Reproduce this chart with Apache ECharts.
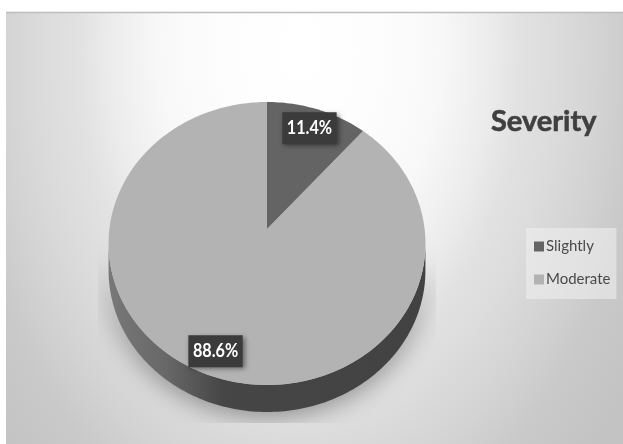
<!DOCTYPE html>
<html>
<head>
<meta charset="utf-8">
<style>html,body{margin:0;padding:0;background:#fff}#chart{width:623px;height:444px}</style>
<script src="https://cdn.jsdelivr.net/npm/echarts@6/dist/echarts.min.js"></script>
</head>
<body>
<div id="chart"></div>
<script>
// Severity split, in percent
const categories = ['Slightly', 'Moderate'];
const shares = [11.4, 88.6];
const sliceColors = ['#646464', '#b3b3b3'];
const chartTitle = 'Severity';

// Tilted disc: a circle under a perspective projection, apex at the slice meeting point
const apex = { x: 267, y: 229 };
const radiusX = 157.6, radiusY = 140, tilt = 0.1025, depth = 27;
const labelRadius = [0.83, 0.855];

function project(theta, r) {
  const c = Math.cos(theta) * r, s = Math.sin(theta) * r;
  const w = 1 + tilt * c;
  return [apex.x + radiusX * s / w, apex.y - radiusY * c / w];
}
function arcPoints(from, to, r, dy) {
  const n = Math.max(8, Math.ceil(Math.abs(to - from) / 0.02));
  const pts = [];
  for (let i = 0; i <= n; i++) {
    const p = project(from + (to - from) * i / n, r);
    pts.push([p[0], p[1] + (dy || 0)]);
  }
  return pts;
}

const total = shares.reduce((a, b) => a + b, 0);

function renderSlice(index) {
  return function (params, api) {
    const value = api.value(0);
    let before = 0;
    for (let i = 0; i < index; i++) before += shares[i];
    const a0 = before / total * Math.PI * 2;
    const a1 = (before + value) / total * Math.PI * 2;
    const children = [];
    // Side wall, only where the rim faces the viewer
    const w0 = Math.max(a0, Math.PI * 0.53), w1 = Math.min(a1, Math.PI * 1.47);
    if (w1 > w0) {
      const lower = arcPoints(w0, w1, 1, depth);
      const upper = arcPoints(w1, w0, 1, 0);
      children.push({
        type: 'polygon', shape: { points: lower.concat(upper) },
        clipPath: { type: 'rect', shape: { x: 98, y: 240, width: 338, height: 183 } },
        style: {
          fill: { type: 'linear', x: 0, y: 0, x2: 1, y2: 0, colorStops: [
            { offset: 0, color: '#787878' }, { offset: 0.18, color: '#686868' },
            { offset: 0.36, color: '#464646' }, { offset: 1, color: '#424242' }] },
          shadowBlur: 26, shadowColor: 'rgba(0,0,0,0.42)', shadowOffsetY: 3
        }
      });
    }
    // Top face
    children.push({
      type: 'polygon', z2: 5,
      shape: { points: [[apex.x, apex.y]].concat(arcPoints(a0, a1, 1, 0)) },
      style: { fill: api.visual('color') }
    });
    return { type: 'group', children: children };
  };
}

function renderLabel(index) {
  return function (params, api) {
    const value = api.value(0);
    let before = 0;
    for (let i = 0; i < index; i++) before += shares[i];
    const mid = (before + value / 2) / total * Math.PI * 2;
    const p = project(mid, labelRadius[index]);
    return {
      type: 'text', x: p[0], y: p[1], z2: 20, scaleX: 0.9,
      style: {
        text: value.toFixed(1) + '%', fill: '#ffffff',
        font: 'bold 18px Lato, sans-serif', align: 'center', verticalAlign: 'middle',
        backgroundColor: '#3b3b3b', padding: [7, 5, 7, 5],
        shadowColor: 'rgba(0,0,0,0.45)', shadowBlur: 5, shadowOffsetX: 2, shadowOffsetY: 2
      }
    };
  };
}

const sliceSeries = categories.map((name, i) => ({
  type: 'custom', name: name, coordinateSystem: 'none', silent: true,
  animation: false, z: i === 0 ? 3 : 2,
  itemStyle: { color: sliceColors[i] },
  data: [[shares[i]]],
  renderItem: renderSlice(i)
}));
const labelSeries = categories.map((name, i) => ({
  type: 'custom', name: name + ' label', coordinateSystem: 'none', silent: true,
  animation: false, z: 6,
  data: [[shares[i]]],
  renderItem: renderLabel(i)
}));

// Backdrop: a vertically stretched radial glow, so its gradient is given in unstretched pixels
const glowStretch = 1.5;
const glowStops = [[0, '#ffffff'], [0.2, '#fdfdfd'], [0.35, '#f8f8f8'], [0.475, '#ececec'], [0.55, '#e2e2e2'],
  [0.64, '#dcdcdc'], [0.75, '#d3d3d3'], [0.85, '#c9c9c9'], [1, '#c3c3c3']];

const chart = echarts.init(document.getElementById('chart'), null, { renderer: 'canvas' });
chart.setOption({
  animation: false,
  backgroundColor: '#ffffff',
  graphic: [
    { type: 'rect', z: -10, x: 6, y: 13, scaleY: glowStretch,
      shape: { x: 0, y: 0, width: 617, height: 431 / glowStretch },
      style: { fill: { type: 'radial', global: true, x: 294, y: 37 / glowStretch, r: 400,
        colorStops: glowStops.map(s => ({ offset: s[0], color: s[1] })) } } },
    { type: 'line', z: -9, shape: { x1: 6, y1: 12.5, x2: 623, y2: 12.5 },
      style: { stroke: '#bdbdbd', lineWidth: 1.5 } }
  ],
  title: {
    text: chartTitle, left: 491, top: 107, padding: 0,
    textStyle: { fontFamily: 'Lato, sans-serif', fontWeight: 'bold', fontSize: 29, color: '#3f3f3f',
      textBorderColor: '#3f3f3f', textBorderWidth: 0.6 }
  },
  legend: {
    orient: 'vertical', left: 526, top: 228, data: categories,
    selectedMode: false, icon: 'rect', itemWidth: 10, itemHeight: 10, itemGap: 18,
    padding: [11, 6, 12, 8], backgroundColor: 'rgba(238,238,238,0.6)',
    textStyle: { fontFamily: 'Lato, sans-serif', fontSize: 15, color: '#4a4a4a', padding: [0, 0, 0, -3] }
  },
  series: sliceSeries.concat(labelSeries)
});
</script>
</body>
</html>
